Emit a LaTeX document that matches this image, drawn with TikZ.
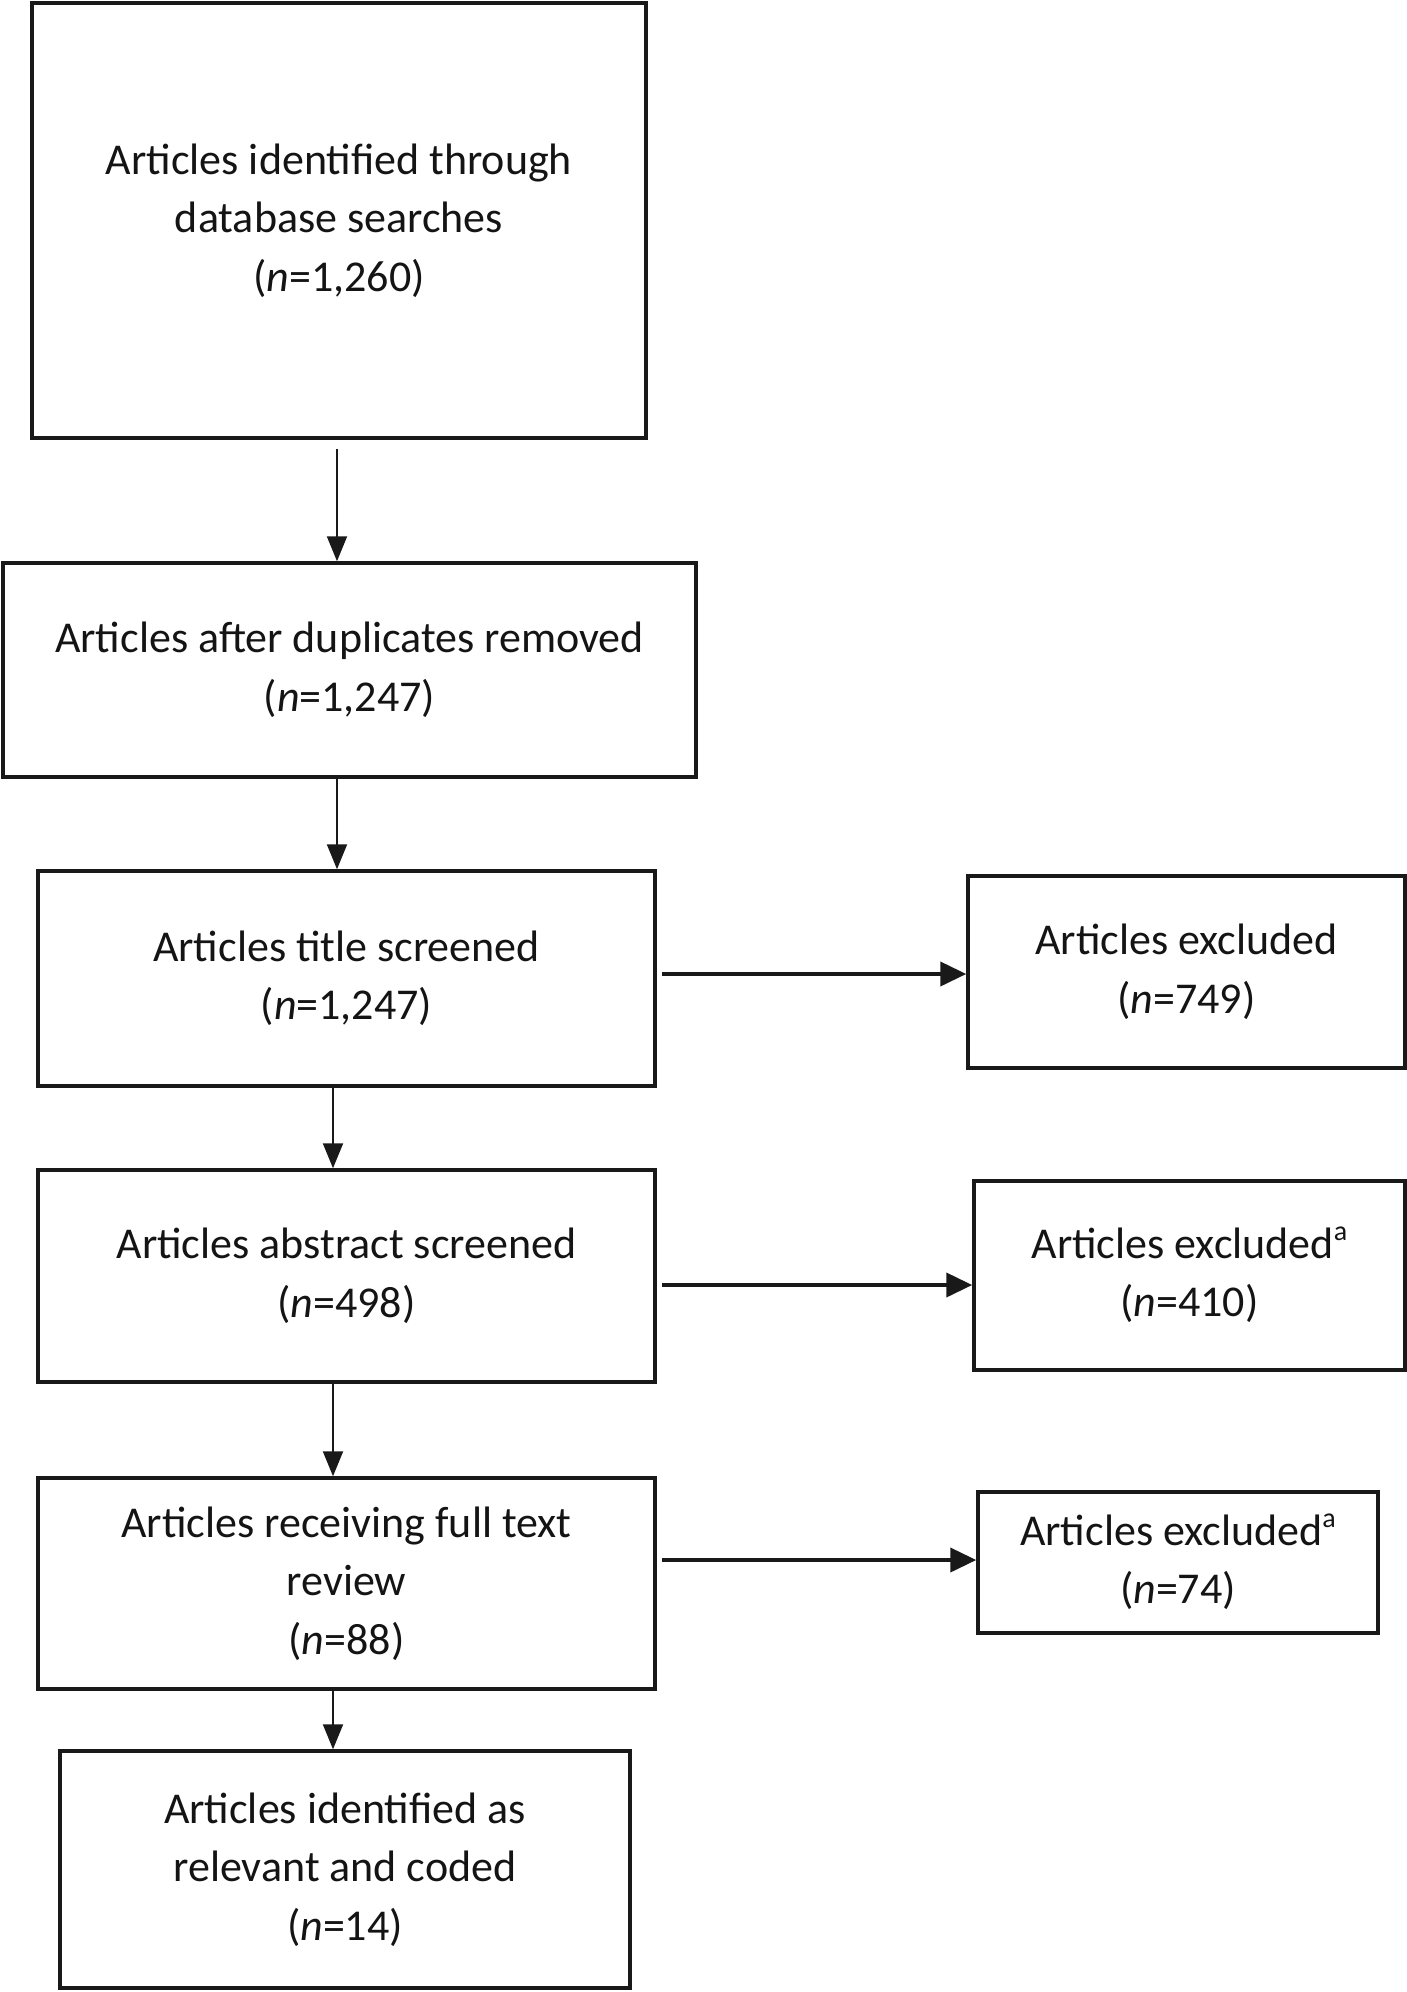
\documentclass[tikz,border=0pt]{standalone}
\usepackage{fontspec}
\setmainfont{Carlito}
\usetikzlibrary{arrows.meta}
\newcommand{\supa}{\smash{\raisebox{0.42em}{\fontsize{28}{28}\selectfont a}}}
\begin{document}
\begin{tikzpicture}[x=1pt,y=-1pt,
  box/.style={draw=black!90, line width=3.5pt, inner sep=0pt, align=center,
    font=\fontsize{44}{58.5}\selectfont, text=black!92},
  varr/.style={draw=black!90, line width=2pt, -{Triangle[length=25pt,width=20pt]}},
  harr/.style={draw=black!90, line width=4pt, -{Triangle[length=26pt,width=24pt]}}]
\useasboundingbox (0,0) rectangle (1407,1992);
\node[box, minimum width=614pt, minimum height=435pt] (b1) at (339,220.5)
  {Articles identified through\\database searches\\(\textit{n}=1,260)};
\node[box, minimum width=693pt, minimum height=214pt] (b2) at (349.5,670)
  {Articles after duplicates removed\\(\textit{n}=1,247)};
\node[box, minimum width=617pt, minimum height=215pt] (b3) at (346.5,978.5)
  {Articles title screened\\(\textit{n}=1,247)};
\node[box, minimum width=617pt, minimum height=212pt] (b4) at (346.5,1276)
  {Articles abstract screened\\(\textit{n}=498)};
\node[box, minimum width=617pt, minimum height=211pt] (b5) at (346.5,1583.5)
  {Articles receiving full text\\review\\(\textit{n}=88)};
\node[box, minimum width=570pt, minimum height=237pt] (b6) at (345,1869.5)
  {Articles identified as\\relevant and coded\\(\textit{n}=14)};
\node[box, minimum width=437pt, minimum height=192pt] (e1) at (1186.5,972)
  {Articles excluded\\(\textit{n}=749)};
\node[box, minimum width=431pt, minimum height=189pt] (e2) at (1189.5,1275.5)
  {Articles excluded\supa\\(\textit{n}=410)};
\node[box, minimum width=400pt, minimum height=141pt] (e3) at (1178,1562.5)
  {Articles excluded\supa\\(\textit{n}=74)};
\coordinate (vxa) at (337,0);
\coordinate (vxb) at (333,0);
\coordinate (hy1) at (0,974);
\coordinate (hy2) at (0,1285);
\coordinate (hy3) at (0,1560);
\draw[varr, shorten <=9pt] (b1.south -| vxa) -- (b2.north -| vxa);
\draw[varr] (b2.south -| vxa) -- (b3.north -| vxa);
\draw[varr] (b3.south -| vxb) -- (b4.north -| vxb);
\draw[varr] (b4.south -| vxb) -- (b5.north -| vxb);
\draw[varr] (b5.south -| vxb) -- (b6.north -| vxb);
\draw[harr, shorten <=5pt] (b3.east |- hy1) -- (e1.west |- hy1);
\draw[harr, shorten <=5pt] (b4.east |- hy2) -- (e2.west |- hy2);
\draw[harr, shorten <=5pt] (b5.east |- hy3) -- (e3.west |- hy3);
\end{tikzpicture}
\end{document}
